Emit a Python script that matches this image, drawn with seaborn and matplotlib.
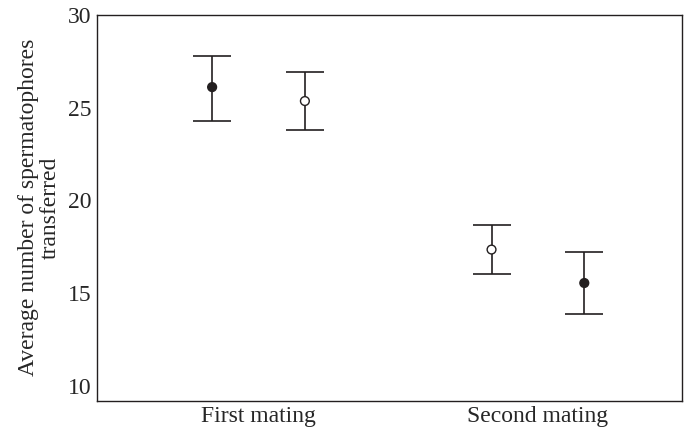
import numpy as np
import pandas as pd
import matplotlib
matplotlib.use("Agg")
import matplotlib.pyplot as plt
import seaborn as sns

# --- Data ---
categories = ["First mating", "Second mating"]
mating = ["First mating", "First mating", "Second mating", "Second mating"]
side = [-1, 1, -1, 1]                 # left / right within each category
fill = ["filled", "open", "open", "filled"]
means = [26.1, 25.35, 17.35, 15.55]
upper = [27.8, 26.9, 18.65, 17.2]
lower = [24.3, 23.8, 16.05, 13.9]

df = pd.DataFrame({"mating": mating, "side": side, "fill": fill,
                   "mean": means, "upper": upper, "lower": lower})
dodge = 0.166
df["x"] = df["mating"].map({c: i for i, c in enumerate(categories)}) + df["side"] * dodge

# --- Style ---
sns.set_style("white")
plt.rcParams["font.family"] = ["Liberation Serif", "DejaVu Serif"]
ink = "#231f20"
fs = 17

fig = plt.figure(figsize=(6.88, 4.32), dpi=100)
ax = fig.add_axes((0.141, 0.072, 0.85, 0.894))

# error bars
ax.errorbar(df["x"], df["mean"],
            yerr=[df["mean"] - df["lower"], df["upper"] - df["mean"]],
            fmt="none", ecolor=ink, elinewidth=1.2, capsize=13.5, capthick=1.2, zorder=2)

# points
sns.scatterplot(data=df, x="x", y="mean", hue="fill",
                palette={"filled": ink, "open": "white"},
                edgecolor=ink, linewidth=1.0, s=40, legend=False, zorder=3, ax=ax)

ax.set_xlim(-0.578, 1.515)
ax.set_ylim(9.2, 30)
ax.set_xticks(range(len(categories)))
ax.set_xticklabels(categories, fontsize=fs)
ax.set_yticks([10, 15, 20, 25, 30])
ax.tick_params(axis="y", direction="in", length=6, width=1, color=ink, labelsize=fs, pad=4)
ax.tick_params(axis="x", length=0, labelsize=fs, pad=4)
ax.set_xlabel("")
ax.set_ylabel("Average number of spermatophores\ntransferred", fontsize=fs,
              labelpad=5, linespacing=1.05)
for sp in ax.spines.values():
    sp.set_color(ink)
    sp.set_linewidth(1.0)

fig.savefig("out.png", dpi=100)
